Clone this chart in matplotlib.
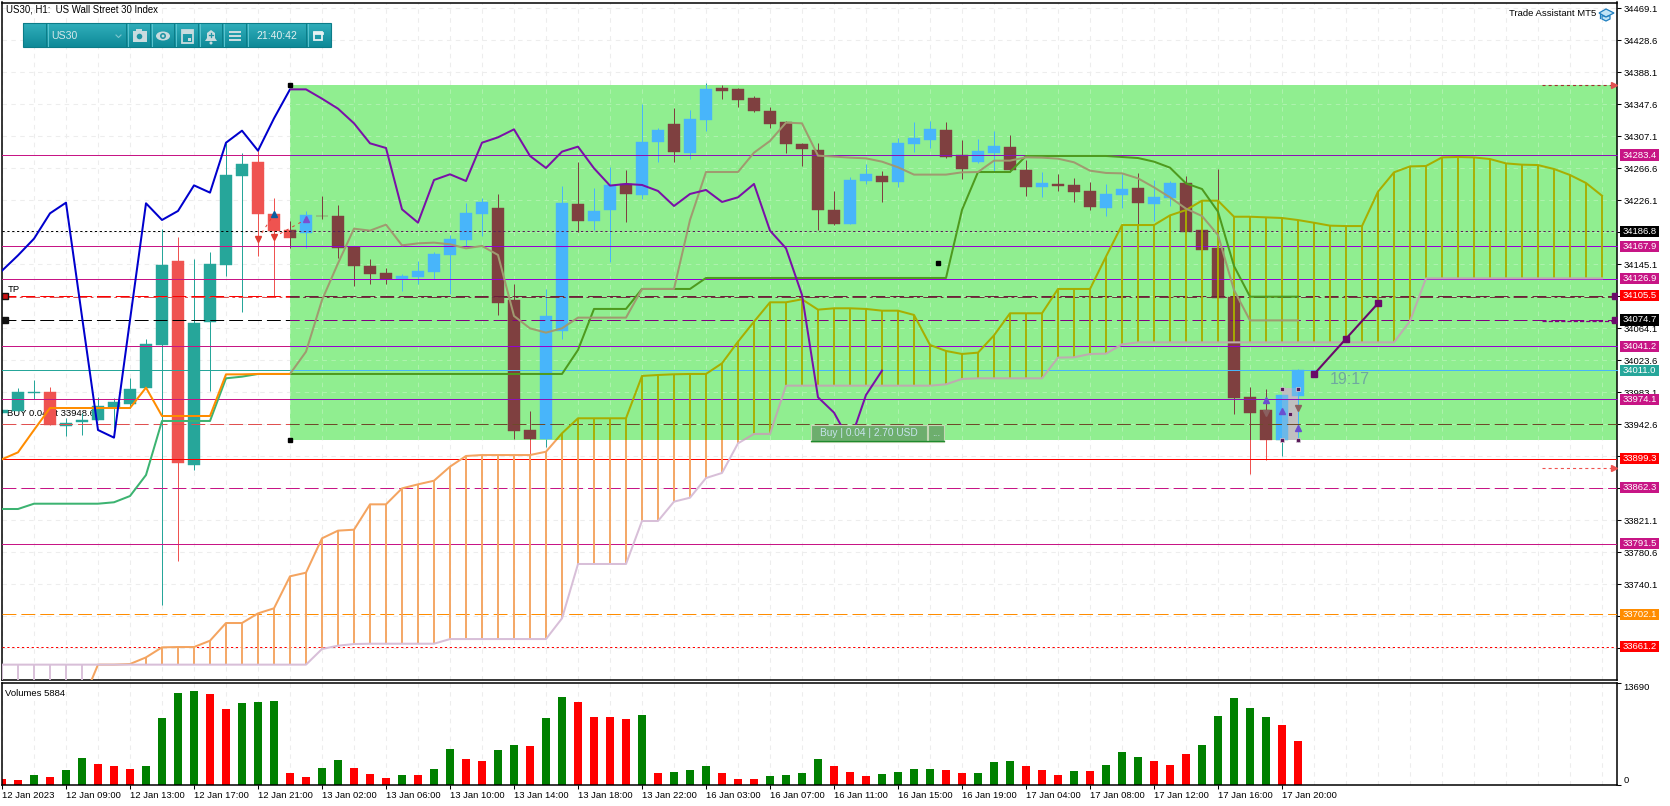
import numpy as np
import matplotlib
matplotlib.use("Agg")
import matplotlib.pyplot as plt
from matplotlib.patches import Rectangle, Polygon, Circle, Ellipse
from matplotlib.path import Path

plt.rcParams['font.family'] = ['Liberation Sans', 'DejaVu Sans']
plt.rcParams['lines.scale_dashes'] = False

# ---------- DATA ----------
opens = [33957.3,33959.4,33982,33983.5,33941,33945.6,33948,33964,33968.3,33988.6,34043,34149.3,33891.5,34072.5,34144.2,34256.8,34274.6,34208.8,34188.5,34185.1,34206.6,34206.2,34167.4,34142.9,34134.1,34126.1,34129,34135.3,34156.9,34175.8,34208.8,34216.3,34099.9,33935.4,33924,34061.1,
34221.4,34199.9,34213.9,34246.8,34232.8,34299.9,34322.7,34286,34327.8,34368.3,34367,34355.6,34339.2,34325.2,34297.4,34289.8,34213.9,34196.1,34250.6,34256.9,34249.3,34297.4,34302.4,34315.1,34283,34274.6,34286,34293.6,34264.5,34243,34246.8,34245.5,34237.9,34216.4,
34232.8,34241.6,34221.4,34229,34248,34188.5,34165.7,34103.7,33977.1,33960.7,33922.7,33978.4]
highs = [33960.7,33989,33998.7,33990,33951,33956.6,33976.7,33975.5,34000.8,34050,34189.3,34179.2,34151.4,34160.2,34298.2,34285.6,34289.8,34228.6,34199.9,34213,34231.5,34220.1,34167.4,34151.4,34140,34132.4,34149.3,34160.2,34182.2,34222.3,34228.6,34234.1,34120.2,33959.4,34113.4,34244.2,
34274.6,34241.7,34267.9,34264.5,34348,34317.6,34342.9,34340.4,34374.6,34372.1,34368.3,34358.1,34344.2,34326.5,34298.2,34298.7,34237.9,34255.6,34272.1,34263.2,34305,34325.2,34326.5,34325.2,34302.4,34303.7,34313.8,34308.8,34277.1,34261.9,34259.4,34254.4,34249.3,34246.8,
34259.3,34260.6,34251.7,34250.5,34256.8,34188.5,34265.7,34103.7,33989.8,33987.2,33979.6,34012.5]
lows = [33957.3,33959.4,33974,33941.7,33928,33929,33948,33937.5,33962.8,33988.6,33713.9,33769.6,33884.8,33985.2,34130.3,34085.1,34155.6,34105,34165.3,34165.3,34202.4,34153.5,34118,34120.2,34120.2,34111.7,34120.6,34126.5,34107.5,34168.3,34180.9,34080.9,33923.6,33884.8,33914.3,34051,
34186.4,34188.5,34148.5,34198.7,34227.8,34274.6,34274.6,34278.4,34313.8,34354.3,34344.2,34337.9,34317.6,34286,34269.5,34188.5,34194.9,34196.1,34246.8,34224,34243,34287.3,34292.3,34279.7,34253.1,34273.3,34263.2,34261.9,34231.6,34230.3,34237.9,34224,34213.9,34206.3,
34216.3,34194.8,34199.9,34218.8,34186.4,34163.2,34102.4,33955.6,33879.6,33897.4,33902.4,33920.2]
closes = [33960.7,33983.5,33983,33941.7,33944,33948,33965.8,33970.8,33987.3,34043.8,34144.2,33893.6,34070.8,34145.5,34258,34272,34208.8,34187.2,34178.4,34207.5,34205.8,34166.1,34142.9,34132.8,34126.1,34130.3,34136.6,34158.1,34177.1,34209.6,34223.9,34096.1,33934.1,33924,34079.7,34222.7,
34199.9,34212.6,34245.5,34234.1,34299.9,34315.1,34287.3,34329,34367,34364.5,34353.1,34339.2,34322.7,34297.4,34291.1,34213.9,34196.1,34251.8,34259.4,34249.3,34298.7,34305,34316.4,34280.9,34265.7,34288.5,34294.9,34264.5,34243,34248,34244.2,34236.6,34217.7,34234.1,
34240.4,34222.6,34230.2,34248,34186.4,34163.2,34102.4,33975.8,33956.9,33922.7,33979.6,34011.3]

chikou = [34137,34156.4,34177.5,34209.6,34223.1,34078.8,33935.4,33925.7,34074.6,34222.3,34201.2,34212.6,34245,34235.8,34299,34314.2,34288.9,34329.8,34366.5,34366.5,34354.7,34342.1,34323.5,34298.2,34292.3,34214.7,34197.8,34251.8,34259,34250.5,34299,34305.8,34315.9,34282.2,34267,
34287.7,34294,34266.6,34244.7,34246.8,34245.5,34237.9,34218.9,34234.1,34239.2,34224,34229.9,34246.8,34187.7,34165.3,34106.3,33976.8,33957.4,33920.7,33979.7,34010.5]

tenkan = [33898.3,33907.1,33935.4,33963.2,33963.2,33963.2,33963.2,33963.2,33963.2,33989,33953.1,33953.1,33953.1,33953.1,34005.8,34005.8,34006.3,34006.3,34006.3,34034.5,34099.9,34146.3,34190.2,34187.7,34195.3,34169.1,34171.6,34172.5,34170.4,34165.3,34168.3,34156.9,34079.7,34064,34058.6,
34064.1,34077.6,34077.6,34077.6,34077.6,34113.9,34113.9,34113.9,34201.2,34261.9,34261.9,34261.9,34286.4,34301.2,34324.4,34323.5,34282.6,34281.4,34280.1,34279.2,34275,34267.9,34258.6,34258.6,34258.6,34261.5,34261.9,34276.3,34276.3,34280.5,34280.1,34278.8,34274.2,34263.6,34260.7,
34260.2,34253.9,34242.5,34229.8,34215.5,34206.2,34182.1,34112.5,34074.1,34074.1,34074.1,34074.1]

kijun = [33835.4,33835.4,33842.1,33842.1,33842.1,33842.1,33842.1,33843.9,33851.8,33878.4,33946.8,33946.8,33946.8,33946.8,34000.8,34002.9]+[34006.3]*20+[34036.7,34088.6,34088.6,34088.6,34113.9,34113.9,34113.9,34113.9]+[34127.8]*16+[34213.9,34261.9,34261.9,34261.9]+[34282.2]*6+[34280.9,34279.6,34275,34267.4,34247.5,34240.4,34211.7,34142.9,34104.1,34104.1,34104.1,34104.1]

senkou_a = [33590]*6+[33638.4,33638.4,33639.2,33647.6,33660.3,33660.7,33660.7,33668.7,33691.1,33691.1,33703.3,33709.7,33750.2,33754.8,33798.3,33808,33809.2,33841.3,33841.3,33861.5,33866.6,33871.2,33889,33902.5,33903.7,33903.7,33903.7,33903.7,33907.9,
33931.2,33950.2,33950.2,33950.2,33950.2,34003.8,34005,34005.9,34006.3,34006.3,34019.8,34047.2,34072.5,34097,34097,34100.8,34087.7,34089.4,34089.4,34088.6,34086.4,34086.4,34081,34043,34035.4,34031.6,34033.3,34055.2,34083.1,34083.1,34083.1,34113.9,34113.9,34113.9,34154.8,
34194.8,34194.8,34194.8,34207,34213.8,34225.6,34225.6,34205.3,34205.3,34204.5,34203.7,34201.1,34197.7,34194,34193.5,34193.5,34237,34261.5,34269,34269.5,34280.4,34280.9,34280.4,34278.3,34272.8,34271.2,34270.7,34265.7,34258.1,34248,34231.9]

senkou_b = [33638.4]*20+[33658.2,33662.4,33664.5,33664.9,33664.9,33664.9,33664.9,33664.9]+[33670.8]*7+[33697,33765.8,33765.8,33765.8,33765.8,33820.2,33820.2,33844.7,33849.7,33874.6,33881,33918.5,33930.4,33930.4]+[33991.5]*10+[33993.2,34000,34000.8,34000.8,34000.8,34000.8,34000.8,34027,34027.4,34031.6,34032,34043.8]+[34046.3]*17+[34073.3]+[34127.3]*12

volumes = [805,670,1341,1073,2012,3621,2816,2548,2146,2548,8985,12337,12605,12203,10192,10996,11130,11264,1609,1073,2280,3353,2280,1475,939,1341,1341,2146,4828,3487,3218,4694,5364,5230,8985,11801,11130,9119,9119,8851,9387,1609,1743,2012,
2548,1609,805,805,1207,1341,1609,3487,2548,1743,1207,1475,1743,2146,2146,2012,1609,1609,3084,3218,2548,2012,1341,1877,1877,2682,4425,3755,3218,2682,4157,5364,9253,11667,10326,9119,8046,5900]
vol_up = "rrgrggrrrggggrrgggrrggrrrgrggrrggrggrrrrgrgg" "grrrgggg" "rrr" "ggggrr" "ggg" "rrr" "grgg" "g" "rrrggggg" "rrrr"

price_ticks = [34469.1,34428.6,34388.1,34347.6,34307.1,34266.6,34226.1,34185.6,34145.1,34104.6,34064.1,34023.6,33983.1,33942.6,33902.1,33861.6,33821.1,33780.6,33740.1,33699.6,33659.1]
tick_bars = list(range(0,84,4))
tick_labels = ["12 Jan 2023","12 Jan 09:00","12 Jan 13:00","12 Jan 17:00","12 Jan 21:00","13 Jan 02:00","13 Jan 06:00","13 Jan 10:00","13 Jan 14:00","13 Jan 18:00","13 Jan 22:00","16 Jan 03:00","16 Jan 07:00","16 Jan 11:00","16 Jan 15:00","16 Jan 19:00","17 Jan 04:00","17 Jan 08:00","17 Jan 12:00","17 Jan 16:00","17 Jan 20:00"]

rect_top, rect_bottom, rect_start = 34371.6, 33922.7, 18
price_labels = [(34283.4,"34283.4","#C71585"),(34186.8,"34186.8","#000000"),(34167.9,"34167.9","#C71585"),(34126.9,"34126.9","#C71585"),(34105.5,"34105.5","#FF0000"),(34074.7,"34074.7","#000000"),(34041.2,"34041.2","#C71585"),(34011.0,"34011.0","#26A69A"),(33974.1,"33974.1","#C71585"),(33899.3,"33899.3","#FF0000"),(33862.3,"33862.3","#C71585"),(33791.5,"33791.5","#C71585"),(33702.1,"33702.1","#FF8C00"),(33661.2,"33661.2","#FF0000")]

W, H = 1670, 806
SOLID = '-'
DASH = (0, (10, 3.6))
DOT = (0, (1.6, 1.9))
DASHDOT = (0, (10, 2.5, 2, 2.5))

fig = plt.figure(figsize=(W/100, H/100), dpi=100, facecolor='white')
def axes_px(l, t, r, b, **kw):
    return fig.add_axes([l/W, (H-b)/H, (r-l)/W, (b-t)/H], **kw)

ax = axes_px(2, 2.5, 1617, 680)
axv = axes_px(2, 683, 1617, 785)
ov = fig.add_axes([0, 0, 1, 1], facecolor='none'); ov.set_xlim(0, W); ov.set_ylim(H, 0); ov.axis('off')

xmax = (1617-2)/16
ax.set_xlim(0, xmax)
ax.set_ylim(34479.6-1.26563*680, 34479.6-1.26563*2.5)
axv.set_xlim(0, xmax); axv.set_ylim(0, 13690)

for a in (ax, axv):
    for s in a.spines.values():
        s.set_linewidth(1.1); s.set_color('black')
    a.yaxis.tick_right()
    a.tick_params(axis='y', length=3, width=0.75, pad=1.5, labelsize=6.8, direction='out')

green = Rectangle((rect_start, rect_bottom), xmax-rect_start+1, rect_top-rect_bottom, fc='#90EE90', ec='none', zorder=1)
ax.add_patch(green)

# region outside the green rectangle (compound path with a hole)
_x0, _x1, _y0, _y1 = -2, xmax+3, 33000, 35000
outside = Path([(_x0,_y0),(_x1,_y0),(_x1,_y1),(_x0,_y1),(_x0,_y0),
                (rect_start,rect_bottom),(rect_start,rect_top),(xmax+1,rect_top),(xmax+1,rect_bottom),(rect_start,rect_bottom)],
               [Path.MOVETO,Path.LINETO,Path.LINETO,Path.LINETO,Path.CLOSEPOLY,Path.MOVETO,Path.LINETO,Path.LINETO,Path.LINETO,Path.CLOSEPOLY])

def aslist(a):
    return list(a) if isinstance(a, (list, tuple)) else [a]

def both(fn, out_kw, in_kw):
    """draw once with plain colours outside the rectangle, once with the colours seen through it"""
    for art in aslist(fn(**out_kw)):
        art.set_clip_path(outside, ax.transData)
    for art in aslist(fn(**in_kw)):
        art.set_clip_path(green)

# grid
grid_x = np.arange(0, 102, 2)
grid_y = price_ticks
GD = (0, (3.2, 3.2))
both(lambda color, zorder: ax.vlines(grid_x, ax.get_ylim()[0], ax.get_ylim()[1], colors=color, lw=0.75, linestyles=GD, zorder=zorder), dict(color='#EDEDED', zorder=0.5), dict(color='#ADF2AD', zorder=1.2))
both(lambda color, zorder: ax.hlines(grid_y, 0, xmax, colors=color, lw=0.75, linestyles=GD, zorder=zorder), dict(color='#EDEDED', zorder=0.5), dict(color='#ADF2AD', zorder=1.2))
axv.vlines(grid_x, 0, 13690, colors='#EDEDED', lw=0.75, linestyles=GD, zorder=0.5)

# grey selection behind last candles
ax.add_patch(Rectangle((80, 33923), 1, 33988.5-33923, fc='#C0C0C0', ec='none', zorder=1.5))

# text under the marks
ax.text(0.3, 33948.6+7.5, "BUY 0.04 at 33948.6", fontsize=6.8, va='center', ha='left', zorder=1.6)
ax.text(0.37, 34113.3, "TP", fontsize=6.8, va='center', ha='left', zorder=1.6)

# candles
o, h, l, c = map(np.array, (opens, highs, lows, closes))
x = np.arange(len(o))
bull = c >= o
def candles(up, down):
    cols = [up if b else down for b in bull]
    w = ax.vlines(x, l, h, colors=cols, lw=0.72, zorder=2)
    b = ax.bar(x, np.abs(c-o), bottom=np.minimum(o, c), width=0.69, color=cols, edgecolor=cols, lw=0.3, zorder=2.1)
    return [w] + list(b)
both(candles, dict(up='#26A69A', down='#EF5350'), dict(up='#48B5FA', down='#7F4040'))
ax.add_patch(Rectangle((80, 33923), 1, 33988.5-33923, fc='#C0C0C0', ec='none', alpha=0.3, zorder=2.2))

# horizontal levels
levels = [(34283.4,'#C71585','#8B10B8',SOLID),(34186.8,'#000000','#5A1A5A',DOT),(34167.9,'#C71585','#9400D3',SOLID),(34126.9,'#C71585','#9400D3',SOLID),
          (34105.5,'#FF0000','#6E1E3C',DASH),(34103.7,'#E05050','#6E3C3C',DASHDOT),(34074.7,'#000000','#800080',DASH),(34041.2,'#C71585','#9400D3',SOLID),
          (34011.0,'#26A69A','#48B5FA',SOLID),(33974.1,'#C71585','#8B10B8',SOLID),(33942.6,'#E05050','#6E4A2A',DASH),(33899.3,'#FF0000','#FF0000',SOLID),
          (33862.3,'#C71585','#C71585',DASH),(33791.5,'#C71585','#C71585',SOLID),(33702.1,'#FF8C00','#FF8C00',DASH),(33661.2,'#FF0000','#FF0000',DOT)]
for p, co, ci, ls in levels:
    both(lambda color: ax.plot([0, xmax], [p, p], color=color, lw=0.72, ls=ls, zorder=3)[0], dict(color=co), dict(color=ci))

# cloud
sa, sb = np.array(senkou_a), np.array(senkou_b)
xc = np.arange(len(sa))
def cloud(ca, cb, la, lb):
    cols = [ca if a >= b else cb for a, b in zip(sa, sb)]
    v = ax.vlines(xc, np.minimum(sa, sb), np.maximum(sa, sb), colors=cols, lw=1.35, zorder=4)
    a1 = ax.plot(xc, sa, color=la, lw=1.45, zorder=4.1)[0]
    a2 = ax.plot(xc, sb, color=lb, lw=1.45, zorder=4.1)[0]
    return [v, a1, a2]
both(cloud, dict(ca='#F4A460', cb='#D8BFD8', la='#F4A460', lb='#D8BFD8'), dict(ca='#A8AE00', cb='#BFB0B0', la='#A8AE00', lb='#BFAAB0'))

# ichimoku lines
xk = np.arange(len(kijun))
both(lambda color: ax.plot(xk, kijun, color=color, lw=1.45, zorder=5)[0], dict(color='#3CB371'), dict(color='#4E9A1E'))
both(lambda color: ax.plot(xk, tenkan, color=color, lw=1.45, zorder=5.1)[0], dict(color='#FF8C00'), dict(color='#A09A70'))
xch = np.arange(len(chikou))
both(lambda color: ax.plot(xch, chikou, color=color, lw=1.45, zorder=5.2)[0], dict(color='#0000CD'), dict(color='#7A10A8'))

# trade marks
def mark(i, p, m, col, s=5):
    ax.plot([i], [p], marker=m, color=col, ms=s, mec=col, zorder=6, ls='none')
for i, p in [(16,34177.5),(17,34179.6)]:
    mark(i, p, 'v', '#E03C32')
mark(17, 34208.4, '^', '#0A5FA0')
mark(19, 34202, '^', '#7B4FD0')
for i, p in [(79,33973.3),(80,33959.4),(81,33937.4)]:
    mark(i, p, '^', '#6A4FD0')
for i, p in [(79,33956.4),(81,33962.8)]:
    mark(i, p, 'v', '#8A6060')
ax.plot([16, 17], [34177.5, 34208.4], color='#E03C32', lw=0.7, ls=(0, (2, 3)), zorder=5.5)
ax.plot([17, 19], [34179.6, 34202], color='#E03C32', lw=0.7, ls=(0, (2, 3)), zorder=5.5)

# trend arrow
ax.plot([82, 84, 86], [34005.9, 34050.9, 34095.7], color='#6A0A6A', lw=1.5, zorder=6)
ax.plot([82, 84, 86], [34005.9, 34050.9, 34095.7], ls='none', marker='s', ms=4.5, color='#6A0A6A', zorder=6.1)
ax.text(83.0, 33999, "19:17", fontsize=11.5, color='#6FA8A0', va='center', ha='left', zorder=6)
# right side pending arrows
ax.plot([96.25, 100.7], [34371.6, 34371.6], color='#A03030', lw=0.8, ls=(0, (2.2, 2.2)), zorder=6)
ax.plot([96.25, 100.7], [33887, 33887], color='#EF5350', lw=0.8, ls=(0, (2.2, 2.2)), zorder=6)
ax.plot([96.25, 100.7], [34073.7, 34073.7], color='#800080', lw=0.9, ls=(0, (3, 1.5)), zorder=6)
ax.plot([100.75], [34371.6], marker='>', ms=5, color='#E05050', zorder=6)
ax.plot([100.75], [33887], marker='>', ms=5, color='#EF5350', zorder=6)
ax.plot([100.8, 100.8], [34105.5, 34074.7], ls='none', marker='s', ms=4, color='#6A0A6A', zorder=6)
# anchor squares
ax.plot([18, 18, 58.5], [rect_top, rect_bottom, 34146.5], ls='none', marker='s', ms=2.6, color='black', zorder=6.5)
ax.plot([80, 80, 81, 81, 80.5], [33987, 33923, 33987, 33923, 33955], ls='none', marker='s', ms=2.6, color='#5A1A5A', mec='#D8D0D8', mew=0.5, zorder=6.5)
ax.plot([0.2], [34105.5], ls='none', marker='s', ms=3.8, color='#CC1111', mec='#111111', zorder=6.5)
ax.plot([0.2], [34074.7], ls='none', marker='s', ms=3.8, color='#111111', zorder=6.5)
ax.set_xticks([])
ax.set_yticks(price_ticks)
ax.set_yticklabels([f"{p:.1f}" for p in price_ticks])

# volumes
axv.bar(np.arange(len(volumes)), volumes, width=0.5, color=['#008000' if f == 'g' else '#FF0000' for f in vol_up[:len(volumes)]], zorder=2)
axv.set_yticks([0, 13690])
axv.set_yticklabels(["0", "13690"])
for t, off in zip(axv.get_yticklabels(), ('bottom', 'top')):
    t.set_verticalalignment(off)
axv.set_xticks(tick_bars)
axv.set_xticklabels(tick_labels, ha='left', fontsize=6.8)
axv.tick_params(axis='x', length=3, width=0.75, pad=1.5)
axv.text(0.2, 13690*0.9, "Volumes 5884", fontsize=6.8, va='center', ha='left')

# ---------- overlay: price labels and terminal chrome ----------
def py(p):
    return H - ax.transData.transform((0, p))[1]
for p, txt, col in price_labels:
    y = py(p)
    ov.add_patch(Rectangle((1620, y-5.6), 39, 11.2, fc=col, ec='none', zorder=5))
    ov.text(1623, y, txt, color='white', fontsize=6.8, va='center', ha='left', zorder=6)

ov.text(6, 10, "US30, H1:  US Wall Street 30 Index", fontsize=6.9, va='center', ha='left', color='black')
ov.text(1509, 14, "Trade Assistant MT5", fontsize=6.8, va='center', ha='left', color='black')
# hat icon
ov.add_patch(Polygon([[1599,13],[1606,9],[1614,13],[1606,17]], fc='#BFE3F5', ec='#1F7FC0', lw=0.9, zorder=5))
ov.add_patch(Polygon([[1602,15.5],[1602,19],[1606,21],[1610,19],[1610,15.5],[1606,17]], fc='#BFE3F5', ec='#1F7FC0', lw=0.9, zorder=5))
ov.plot([1600,1600],[13,18], color='#1F7FC0', lw=0.9)

# toolbar
grad = np.linspace(0, 1, 24)[:, None]
cm = matplotlib.colors.LinearSegmentedColormap.from_list('t', ['#30AEBB', '#0F8A98'])
ov.imshow(grad, extent=(23, 331, 47, 23), aspect='auto', cmap=cm, zorder=1)
ov.set_xlim(0, W); ov.set_ylim(H, 0)
ov.add_patch(Rectangle((23, 23), 308, 24, fc='none', ec='#0C7C88', lw=0.8, zorder=2))
for sx in [46, 47.5, 126, 127.5, 150, 151.5, 174, 175.5, 198, 199.5, 222, 223.5, 246, 247.5, 306, 307.5]:
    ov.plot([sx, sx], [24, 46], color='#0C7C88' if float(sx).is_integer() else '#5CC4CF', lw=0.7, zorder=2)
icon = '#C9DCDF'
ov.text(51, 36, "US30", color='#D5E8EA', fontsize=7.6, va='center', ha='left', zorder=3)
ov.plot([116, 118.5, 121], [35, 37.5, 35], color='#7FC6CE', lw=0.8, zorder=3)
# camera
ov.add_patch(Rectangle((132.5, 31), 14, 11, fc=icon, ec='none', zorder=3)); ov.add_patch(Rectangle((136, 29), 6, 2.5, fc=icon, zorder=3))
ov.add_patch(Circle((139.5, 36.5), 2.8, fc='#1F95A3', ec='none', zorder=4))
# eye
ov.add_patch(Ellipse((163, 36), 14, 9, fc=icon, ec='none', zorder=3)); ov.add_patch(Circle((163, 36), 3, fc='#1F95A3', zorder=4)); ov.add_patch(Circle((163, 36), 1.4, fc=icon, zorder=5))
# calendar
ov.add_patch(Rectangle((181.5, 30), 11, 13, fc='none', ec=icon, lw=1.3, zorder=3)); ov.add_patch(Rectangle((181.5, 30), 11, 3.5, fc=icon, zorder=3)); ov.add_patch(Rectangle((187.5, 37.5), 3, 3, fc=icon, zorder=3))
# bell
ov.add_patch(Polygon([[205,41],[207,38],[207,33],[211,30],[215,33],[215,38],[217,41]], fc=icon, zorder=3)); ov.add_patch(Circle((211, 43), 1.5, fc=icon, zorder=3))
ov.plot([209, 213], [35, 35], color='#1F95A3', lw=0.9, zorder=4); ov.plot([211, 211], [33, 37], color='#1F95A3', lw=0.9, zorder=4)
# menu
for yy in [32, 36, 40]:
    ov.add_patch(Rectangle((229, yy-0.8), 12, 1.8, fc=icon, zorder=3))
ov.text(276.5, 36, "21:40:42", color='#E2F0F1', fontsize=7.6, va='center', ha='center', zorder=3)
ov.add_patch(Rectangle((314, 32), 8, 8, fc='none', ec='#E8F2F3', lw=1.3, zorder=3)); ov.plot([314, 322], [32.5, 32.5], color='#E8F2F3', lw=2, zorder=3)
# order button
ov.add_patch(Rectangle((811, 424.5), 115.5, 17, fc='#6DAE6D', ec='#C4D8B4', lw=0.8, zorder=5))
ov.add_patch(Rectangle((928, 424.5), 16, 17, fc='#6DAE6D', ec='#C4D8B4', lw=0.8, zorder=5))
ov.plot([811, 926.5], [441, 441], color='#1E8A2E', lw=0.9, zorder=6); ov.plot([928, 944], [441, 441], color='#1E8A2E', lw=0.9, zorder=6)
ov.text(868.7, 433, "Buy | 0.04 | 2.70 USD", color='#C8E4EE', fontsize=7.3, va='center', ha='center', zorder=7)
ov.text(936, 433, "...", color='#C8E4EE', fontsize=7.3, va='center', ha='center', zorder=7)

fig.savefig('out.png', dpi=100)
